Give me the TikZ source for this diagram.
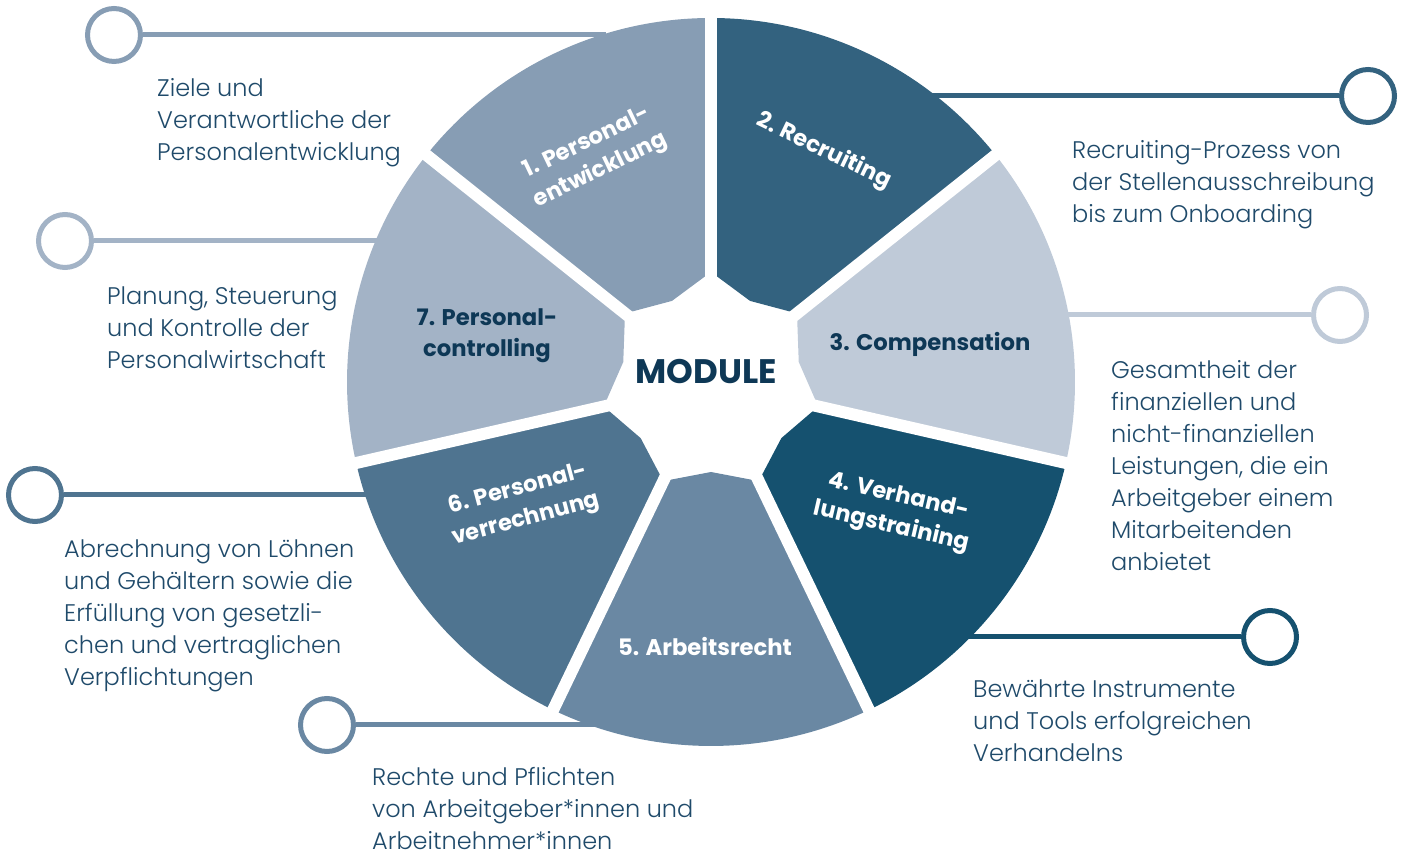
\documentclass[tikz,border=0pt]{standalone}
\usepackage{fontspec}
\setmainfont{Poppins}
\newfontfamily\descfont{Poppins Light}
\definecolor{colPE}{HTML}{879DB4}
\definecolor{colRec}{HTML}{33627F}
\definecolor{colComp}{HTML}{BFCAD8}
\definecolor{colVerh}{HTML}{15516F}
\definecolor{colAR}{HTML}{6A88A3}
\definecolor{colPV}{HTML}{4F7490}
\definecolor{colPC}{HTML}{A3B3C6}
\definecolor{descblue}{HTML}{1F4A6A}
\definecolor{navy}{HTML}{0E3856}
\tikzset{
  desc/.style={anchor=north west, align=left, inner sep=0pt, text=descblue,
    font=\descfont\fontsize{24}{32}\selectfont},
  modlabel/.style={align=center, inner sep=0pt,
    font=\bfseries\fontsize{22.7}{31}\selectfont},
  ring/.style={circle, draw=#1, line width=5pt, fill=white, minimum size=53pt, inner sep=0pt},
  leader/.style={draw=#1, line width=5pt},
  gap/.style={draw=white, line width=12pt},
}

\begin{document}
\begin{tikzpicture}[x=1pt,y=1pt]
\useasboundingbox (0,0) rectangle (1405,856);

\node[ring=colPE]   (r1) at (114,821) {};
\node[ring=colRec]  (r2) at (1368,760) {};
\node[ring=colComp] (r3) at (1340,541) {};
\node[ring=colVerh] (r4) at (1270,219) {};
\node[ring=colAR]   (r5) at (327,131) {};
\node[ring=colPV]   (r6) at (35,361) {};
\node[ring=colPC]   (r7) at (65,615) {};

\coordinate (e1) at (606,821);
\coordinate (e2) at (925,760);
\coordinate (e3) at (1060,541);
\coordinate (e4) at (962,219);
\coordinate (e5) at (598,131);
\coordinate (e6) at (375,361);
\coordinate (e7) at (385,615);

\draw[leader=colPE]   (r1) -- (e1);
\draw[leader=colRec]  (r2) -- (e2);
\draw[leader=colComp] (r3) -- (e3);
\draw[leader=colVerh] (r4) -- (e4);
\draw[leader=colAR]   (r5) -- (e5);
\draw[leader=colPV]   (r6) -- (e6);
\draw[leader=colPC]   (r7) -- (e7);

\begin{scope}[shift={(711,474)}]
\fill[colPE]   (90:110) -- (115.71:90) -- (141.43:110) -- (141.43:364) arc[start angle=141.43, end angle=90, radius=364] -- cycle;
\fill[colRec]  (38.57:110) -- (64.29:90) -- (90:110) -- (90:364) arc[start angle=90, end angle=38.57, radius=364] -- cycle;
\fill[colComp] (-12.86:110) -- (12.86:90) -- (38.57:110) -- (38.57:364) arc[start angle=38.57, end angle=-12.86, radius=364] -- cycle;
\fill[colVerh] (-64.29:110) -- (-38.57:90) -- (-12.86:110) -- (-12.86:364) arc[start angle=-12.86, end angle=-64.29, radius=364] -- cycle;
\fill[colAR]   (-115.71:110) -- (-90:90) -- (-64.29:110) -- (-64.29:364) arc[start angle=-64.29, end angle=-115.71, radius=364] -- cycle;
\fill[colPV]   (-167.14:110) -- (-141.43:90) -- (-115.71:110) -- (-115.71:364) arc[start angle=-115.71, end angle=-167.14, radius=364] -- cycle;
\fill[colPC]   (141.43:110) -- (167.14:90) -- (192.86:110) -- (192.86:364) arc[start angle=192.86, end angle=141.43, radius=364] -- cycle;

\draw[gap] (0,0) -- (90:372);
\draw[gap] (0,0) -- (38.57:372);
\draw[gap] (0,0) -- (-12.86:372);
\draw[gap] (0,0) -- (-64.29:372);
\draw[gap] (0,0) -- (-115.71:372);
\draw[gap] (0,0) -- (-167.14:372);
\draw[gap] (0,0) -- (141.43:372);

\node[modlabel, text=white, rotate=25.7]  (l1) at (-117,225) {1. Personal-\\entwicklung};
\node[modlabel, text=white, rotate=-25.7] (l2) at (113,231) {2. Recruiting};
\node[modlabel, text=navy]                (l3) at (219,38) {3. Compensation};
\node[modlabel, text=white, rotate=-12.9] (l4) at (184,-130) {4. Verhand-\\lungstraining};
\node[modlabel, text=white]               (l5) at (-6,-265) {5. Arbeitsrecht};
\node[modlabel, text=white, rotate=15]    (l6) at (-189,-123) {6. Personal-\\verrechnung};
\node[modlabel, text=navy]                (l7) at (-224,46) {7. Personal-\\controlling};
\node[font=\bfseries\fontsize{34}{34}\selectfont, text=navy] (hub) at (-5,10) {MODULE};
\end{scope}

\node[desc] (d1) at (157,778) {Ziele und\\Verantwortliche der\\Personalentwicklung};
\node[desc] (d2) at (1072,716) {Recruiting-Prozess von\\der Stellenausschreibung\\bis zum Onboarding};
\node[desc] (d3) at (1111,496) {Gesamtheit der\\finanziellen und\\nicht-finanziellen\\Leistungen, die ein\\Arbeitgeber einem\\Mitarbeitenden\\anbietet};
\node[desc] (d4) at (973,176) {Bewährte Instrumente\\und Tools erfolgreichen\\Verhandelns};
\node[desc] (d5) at (372,89) {Rechte und Pflichten\\von Arbeitgeber*innen und\\Arbeitnehmer*innen};
\node[desc] (d6) at (64,316) {Abrechnung von Löhnen\\und Gehältern sowie die\\Erfüllung von gesetzli-\\chen und vertraglichen\\Verpflichtungen};
\node[desc] (d7) at (107,569) {Planung, Steuerung\\und Kontrolle der\\Personalwirtschaft};
\end{tikzpicture}
\end{document}
